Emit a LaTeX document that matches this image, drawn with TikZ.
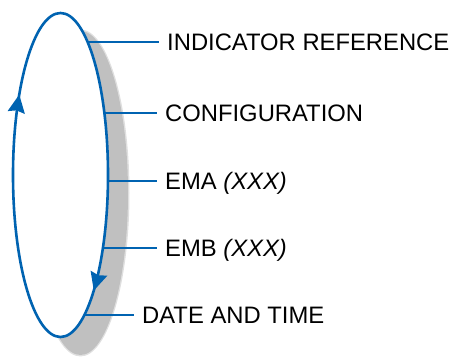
\documentclass[tikz,border=0pt]{standalone}
\usepackage{fontspec}
\setmainfont{Liberation Sans}
\usetikzlibrary{arrows.meta,decorations.markings}
\definecolor{cycleBlue}{RGB}{0,99,177}
\definecolor{cycleShade}{RGB}{192,192,192}

\begin{document}
\begin{tikzpicture}[x=1pt,y=-1pt,
  lbl/.style={anchor=base west, inner ysep=0pt, inner xsep=8pt, font=\fontsize{23.8}{28}\selectfont},
  lead/.style={draw=cycleBlue, line width=2.6pt},
  ring/.style={draw=cycleBlue, line width=2.6pt, fill=white, postaction={decorate},
    decoration={markings,
      mark=at position 0.386 with {\arrowreversed{Stealth[length=18pt,width=17pt,inset=2pt]}},
      mark=at position 0.835 with {\arrowreversed{Stealth[length=18pt,width=17pt,inset=2pt]}}}}]
\useasboundingbox (0,0) rectangle (456,358);
\fill[cycleShade, opacity=0.5] (80.5,193) ellipse [x radius=49pt, y radius=163.5pt];
\fill[cycleShade] (80.5,193) ellipse [x radius=47.5pt, y radius=162pt];
\path[ring] (60.5,175) ellipse [x radius=47.5pt, y radius=162pt];
\coordinate (rInd) at (87.6,42);
\coordinate (rCfg) at (104.4,113);
\coordinate (rEma) at (108,181);
\coordinate (rEmb) at (102.9,248);
\coordinate (rDat) at (84.4,315);
\node[lbl] (lInd) at (159,50.5) {INDICATOR REFERENCE};
\node[lbl] (lCfg) at (157,121.5) {CONFIGURATION};
\node[lbl] (lEma) at (157,189.5) {EMA \textit{(XXX)}};
\node[lbl] (lEmb) at (157,256.5) {EMB \textit{(XXX)}};
\node[lbl] (lDat) at (134,323.5) {DATE AND TIME};
\draw[lead] (rInd) -- (rInd -| lInd.west);
\draw[lead] (rCfg) -- (rCfg -| lCfg.west);
\draw[lead] (rEma) -- (rEma -| lEma.west);
\draw[lead] (rEmb) -- (rEmb -| lEmb.west);
\draw[lead] (rDat) -- (rDat -| lDat.west);
\end{tikzpicture}
\end{document}
